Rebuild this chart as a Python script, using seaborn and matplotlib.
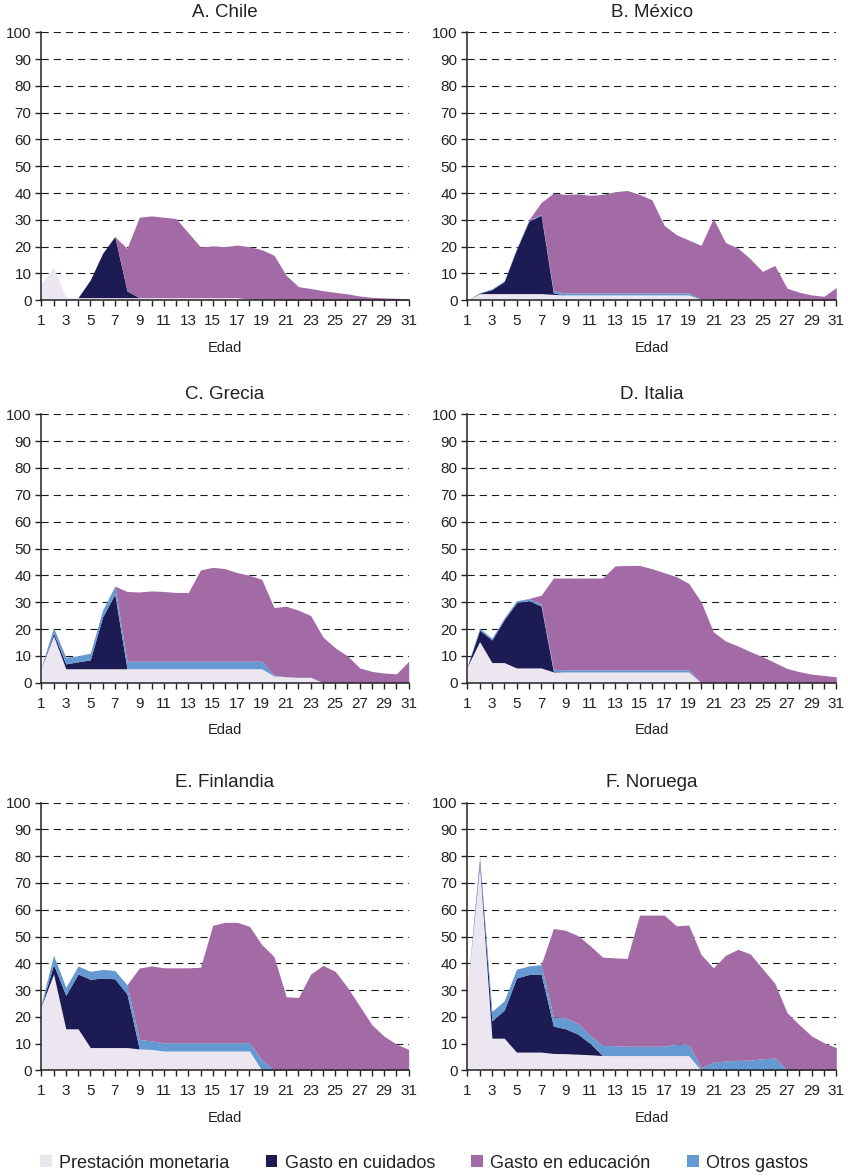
import matplotlib
matplotlib.use("Agg")
import matplotlib.pyplot as plt
from matplotlib.patches import Patch
from matplotlib.ticker import MultipleLocator
import seaborn as sns
import numpy as np

sns.set_style("white")
plt.rcParams['font.family'] = ['Liberation Sans', 'DejaVu Sans']

ages = list(range(1, 32))
series_names = ["Prestación monetaria", "Gasto en cuidados", "Otros gastos", "Gasto en educación"]
legend_order = ["Prestación monetaria", "Gasto en cuidados", "Gasto en educación", "Otros gastos"]
colors = {"Prestación monetaria": "#ECE6F1", "Gasto en cuidados": "#1D1B54",
          "Gasto en educación": "#A36BA6", "Otros gastos": "#6499D1"}
titles = ["A. Chile", "B. México", "C. Grecia", "D. Italia", "E. Finlandia", "F. Noruega"]

# ---- Chile ----
chile_mon = [6, 12.5, 1, 1, 1, 1, 1, 1, 1, 1, 1, 1, 1, 1, 1, 1, 1, 0.4, 0.3, 0.3,
             0, 0, 0, 0, 0, 0, 0, 0, 0, 0, 0]
chile_cui = [0, 0, 0, 0, 6.6, 16.5, 22.8, 2.5, 0, 0, 0, 0, 0, 0, 0, 0, 0, 0, 0, 0,
             0, 0, 0, 0, 0, 0, 0, 0, 0, 0, 0]
chile_otr = [0] * 31
chile_edu = [0, 0, 0, 0, 0, 0, 0, 15.9, 30, 30.5, 30, 29.5, 24.2, 18.9, 19.3, 19, 19.6, 19.6, 18.6, 16.5,
             9.3, 5.1, 4.4, 3.6, 3.0, 2.4, 1.6, 1.1, 0.9, 0.75, 0.6]

# ---- México ----
mexico_mon = [0, 2.5, 2.5, 2.5, 2.5, 2.5, 2.5, 2.2, 2, 2, 2, 2, 2, 2, 2, 2, 2, 2, 2, 0.3,
              0.5, 0, 0, 0, 0, 0, 0, 0, 0, 0, 0]
mexico_cui = [0, 0.2, 1.5, 4.5, 16.5, 27, 29.3, 0.5, 0, 0, 0, 0, 0, 0, 0, 0, 0, 0, 0, 0,
              0, 0, 0, 0, 0, 0, 0, 0, 0, 0, 0]
mexico_otr = [0, 0.1, 0.3, 0.3, 0.3, 0.3, 0.3, 0.8, 0.7, 0.7, 0.7, 0.7, 0.7, 0.7, 0.7, 0.7, 0.7, 0.7, 0.7, 0.1,
              0, 0, 0, 0, 0, 0, 0, 0, 0, 0, 0]
mexico_edu = [0, 0, 0, 0, 0, 0.2, 4.4, 36.5, 36.8, 37.0, 36.5, 36.8, 37.8, 38.3, 36.8, 34.8, 25.3, 21.8, 19.8, 20.1,
              30, 21.5, 19.5, 15.5, 10.8, 13, 4.5, 3, 2, 1.5, 4.8]

# ---- Grecia ----
grecia_mon = [5.5, 17.5, 5.2, 5.2, 5.2, 5.2, 5.2, 5.2, 5.2, 5.2, 5.2, 5.2, 5.2, 5.2, 5.2, 5.2, 5.2, 5.2, 5.2, 2.5,
              2.2, 2, 2, 0, 0, 0, 0, 0, 0, 0, 0]
grecia_cui = [0, 1, 1.8, 2.6, 3.3, 19.3, 27.8, 0, 0, 0, 0, 0, 0, 0, 0, 0, 0, 0, 0, 0,
              0, 0, 0, 0, 0, 0, 0, 0, 0, 0, 0]
grecia_otr = [0.5, 2, 2.5, 2.2, 2.5, 2.5, 3, 2.8, 2.8, 2.8, 2.8, 2.8, 2.8, 2.8, 2.8, 2.8, 2.8, 2.8, 2.8, 0.3,
              0, 0, 0, 0, 0, 0, 0, 0, 0, 0, 0]
grecia_edu = [0, 0, 0, 0, 0, 0, 0, 26, 25.8, 26.2, 26, 25.6, 25.6, 34, 35, 34.5, 33, 32, 30.5, 25.2,
              26.3, 25, 23, 17, 13, 10, 5.5, 4.2, 3.6, 3.3, 8]

# ---- Italia ----
italia_mon = [6, 15.3, 7.5, 7.5, 5.5, 5.5, 5.5, 4, 4, 4, 4, 4, 4, 4, 4, 4, 4, 4, 4, 0,
              0, 0, 0, 0, 0, 0, 0, 0, 0, 0, 0]
italia_cui = [0, 4.3, 8.4, 16, 24.3, 25.1, 23.1, 0.2, 0, 0, 0, 0, 0, 0, 0, 0, 0, 0, 0, 0,
              0, 0, 0, 0, 0, 0, 0, 0, 0, 0, 0]
italia_otr = [0.3, 0.7, 0.7, 0.7, 0.7, 0.7, 0.7, 0.8, 0.8, 0.8, 0.8, 0.8, 0.8, 0.8, 0.8, 0.8, 0.8, 0.8, 0.8, 0,
              0, 0, 0, 0, 0, 0, 0, 0, 0, 0, 0]
italia_edu = [0, 0, 0, 0, 0, 0.1, 3.3, 34, 34.2, 34.2, 34.2, 34.2, 38.7, 38.9, 38.9, 37.7, 36.2, 34.7, 32.2, 30.2,
              19, 15.5, 13.7, 11.6, 9.7, 7.5, 5.3, 4.1, 3.2, 2.7, 2.2]

# ---- Finlandia ----
finlandia_mon = [24, 36, 15.5, 15.5, 8.5, 8.5, 8.5, 8.5, 8, 7.8, 7.2, 7.2, 7.2, 7.2, 7.2, 7.2, 7.2, 7.2, 0, 0,
                 0, 0, 0, 0, 0, 0, 0, 0, 0, 0, 0]
finlandia_cui = [0, 3.5, 12.5, 20.5, 25.5, 26, 25.7, 20, 0, 0, 0, 0, 0, 0, 0, 0, 0, 0, 0, 0,
                 0, 0, 0, 0, 0, 0, 0, 0, 0, 0, 0]
finlandia_otr = [1, 3.5, 3, 3, 3, 3.2, 3.1, 3.5, 3.5, 3.2, 3.1, 3.1, 3.1, 3.1, 3.1, 3.1, 3.1, 3.1, 4, 0,
                 0, 0, 0, 0, 0, 0, 0, 0, 0, 0, 0]
finlandia_edu = [0, 0, 0, 0, 0, 0, 0, 0, 26.7, 28, 28, 28, 28, 28.2, 43.9, 45, 45, 43.5, 43, 42.5,
                 27.5, 27.2, 36, 39.2, 37, 31, 24, 17, 12.7, 9.8, 7.8]

# ---- Noruega ----
noruega_mon = [30, 77, 12, 12, 6.8, 6.8, 6.8, 6.3, 6.2, 6, 5.8, 5.5, 5.5, 5.5, 5.5, 5.5, 5.5, 5.5, 5.5, 0,
               0, 0, 0, 0, 0, 0, 0, 0, 0, 0, 0]
noruega_cui = [0, 1.5, 6.5, 10.5, 27.7, 29, 29.2, 10.2, 9.3, 7.5, 4.2, 0, 0, 0, 0, 0, 0, 0, 0, 0,
               0, 0, 0, 0, 0, 0, 0, 0, 0, 0, 0]
noruega_otr = [0, 1.5, 3.5, 3.5, 3.3, 3.2, 3.5, 3.5, 4, 4, 3, 3.8, 3.7, 3.5, 3.5, 3.5, 3.5, 4.2, 4.2, 1,
               3, 3.5, 3.7, 3.8, 4.3, 4.6, 0, 0, 0, 0, 0]
noruega_edu = [0, 0, 0, 0, 0, 0, 0, 33, 32.8, 32.8, 33.5, 33, 32.8, 32.8, 49, 49, 49, 44.3, 44.6, 42.3,
               35.3, 39.5, 41.5, 39.7, 33.7, 27.9, 21.5, 17, 12.8, 10.3, 8.5]

countries = [
    (chile_mon, chile_cui, chile_otr, chile_edu),
    (mexico_mon, mexico_cui, mexico_otr, mexico_edu),
    (grecia_mon, grecia_cui, grecia_otr, grecia_edu),
    (italia_mon, italia_cui, italia_otr, italia_edu),
    (finlandia_mon, finlandia_cui, finlandia_otr, finlandia_edu),
    (noruega_mon, noruega_cui, noruega_otr, noruega_edu),
]

W, H = 848, 1176
fig = plt.figure(figsize=(W / 100, H / 100), dpi=100)

col_px = [(41.3, 408.7), (467.3, 836.3)]
row_px = [(32.3, 300.3), (414.3, 682.7), (802.7, 1070.3)]

text_color = "#222222"
for i, (title, data) in enumerate(zip(titles, countries)):
    r, c = divmod(i, 2)
    x0, x1 = col_px[c]
    y0, y1 = row_px[r]
    ax = fig.add_axes([x0 / W, 1 - y1 / H, (x1 - x0) / W, (y1 - y0) / H])
    ax.set_axisbelow(True)
    for yv in range(10, 101, 10):
        ax.axhline(yv, color="#1a1a1a", lw=0.8, ls=(0, (6.5, 4.5)), zorder=0)
    ax.stackplot(ages, *data, colors=[colors[n] for n in series_names], linewidth=0, zorder=2)
    ax.set_xlim(1, 31)
    ax.set_ylim(0, 100)
    ax.xaxis.set_major_locator(MultipleLocator(2))
    ax.xaxis.set_minor_locator(MultipleLocator(1))
    ax.set_xticks(range(1, 32, 2))
    ax.set_yticks(range(0, 101, 10))
    ax.tick_params(axis="both", which="both", direction="out", color="#222222", width=1.0,
                   labelsize=11, labelcolor=text_color)
    ax.tick_params(axis="x", which="both", length=4, pad=6, bottom=True)
    ax.tick_params(axis="y", which="major", length=4, pad=3, left=True)
    for s in ["top", "right"]:
        ax.spines[s].set_visible(False)
    for s in ["left", "bottom"]:
        ax.spines[s].set_color("#222222")
        ax.spines[s].set_linewidth(1.1)
        ax.spines[s].set_zorder(5)
    ax.set_title(title, fontsize=13.5, color=text_color, pad=11)
    ax.set_xlabel("Edad", fontsize=10.5, color=text_color, labelpad=9)

handles = [Patch(facecolor=colors[n], edgecolor="none", label=n) for n in legend_order]
fig.legend(handles=handles, loc="center", bbox_to_anchor=(0.5, 1 - 1163 / H), ncol=4,
           frameon=False, fontsize=13, handlelength=0.66, handleheight=0.66,
           handletextpad=0.4, columnspacing=2.0, labelcolor=text_color)

fig.savefig("out.png", dpi=100)
